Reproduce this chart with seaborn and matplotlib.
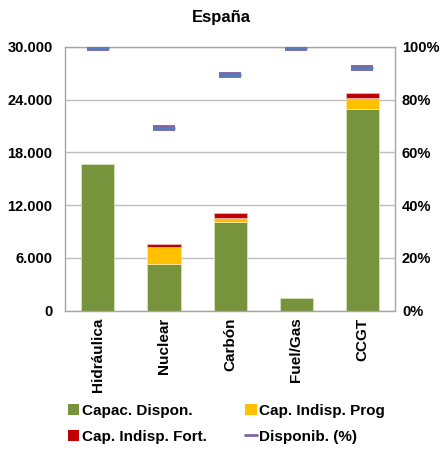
import numpy as np
import pandas as pd
import matplotlib
matplotlib.use('Agg')
import matplotlib.pyplot as plt
import seaborn as sns
from matplotlib.patches import Patch
from matplotlib.lines import Line2D

sns.set_style('white')
plt.rcParams['font.family'] = ['Liberation Sans', 'DejaVu Sans']
plt.rcParams['font.weight'] = 'bold'
plt.rcParams['text.color'] = 'black'
plt.rcParams['xtick.color'] = 'black'
plt.rcParams['ytick.color'] = 'black'

# Datos
tecnologias = ['Hidráulica', 'Nuclear', 'Carbón', 'Fuel/Gas', 'CCGT']
cap_dispon = [16700, 5270, 10100, 1440, 22950]
cap_indisp_prog = [0, 2000, 460, 0, 1220]
cap_indisp_fort = [0, 275, 570, 0, 600]
disponib = [99.5, 69.3, 89.2, 99.5, 92.0]

df = pd.DataFrame({'tec': tecnologias, 'disp': cap_dispon,
                   'prog': cap_indisp_prog, 'fort': cap_indisp_fort,
                   'pct': disponib})
df['base_fort'] = df['disp'] + df['prog']

c_verde = '#77933C'
c_amar = '#FFC000'
c_rojo = '#C00000'

fig = plt.figure(figsize=(4.43, 4.5), dpi=100)
ax = fig.add_axes([0.1467, 0.3096, 0.745, 0.5866])

# barras apiladas (se omiten los tramos vacios)
sns.barplot(data=df, x='tec', y='disp', order=tecnologias, color=c_verde,
            width=0.5, edgecolor='#D7E4BD', linewidth=0.6, ax=ax, saturation=1)
d_prog = df[df['prog'] > 0]
sns.barplot(data=d_prog, x='tec', y='prog', order=tecnologias,
            bottom=d_prog['disp'].values, color=c_amar, width=0.5,
            edgecolor='#FFE699', linewidth=0.6, ax=ax, saturation=1)
d_fort = df[df['fort'] > 0]
sns.barplot(data=d_fort, x='tec', y='fort', order=tecnologias,
            bottom=d_fort['base_fort'].values, color=c_rojo, width=0.5,
            edgecolor='#E6B9B8', linewidth=0.6, ax=ax, saturation=1)

ax.set_xlim(-0.5, 4.5)
ax.set_ylim(0, 30000)
ax.set_yticks(np.arange(0, 30001, 6000))
ax.set_yticklabels([f'{v:,}'.replace(',', '.') for v in range(0, 30001, 6000)],
                   fontsize=10.5, fontweight='bold')
ax.set_xticks(range(len(tecnologias)))
ax.set_xticklabels(tecnologias, rotation=90, fontsize=11, fontweight='bold')
ax.set_xlabel('')
ax.set_ylabel('')
ax.yaxis.grid(True, color='#BFBFBF', linewidth=1)
ax.set_axisbelow(True)
for s in ax.spines.values():
    s.set_color('#A6A6A6')
    s.set_linewidth(1)
ax.tick_params(axis='y', length=0, pad=9)
ax.tick_params(axis='x', length=0, pad=5)

ax2 = ax.twinx()
ax2.set_ylim(0, 100)
ax2.set_yticks(np.arange(0, 101, 20))
ax2.set_yticklabels([f'{v}%' for v in range(0, 101, 20)], fontsize=10.5,
                    fontweight='bold')
ax2.tick_params(axis='y', length=0, pad=5)
for s in ax2.spines.values():
    s.set_visible(False)
x = np.arange(len(tecnologias))
ax2.scatter(x, df['pct'], marker='_', s=270, linewidths=4.2, color='#8064A2',
            zorder=3)
ax2.scatter(x, df['pct'], marker='_', s=230, linewidths=1.8, color='#4F81BD',
            zorder=4)

fig.text(0.5, 0.962, 'España', ha='center', va='center', fontsize=12,
         fontweight='bold')

handles = [Patch(facecolor=c_verde, edgecolor='none'),
           Patch(facecolor=c_rojo, edgecolor='none'),
           Patch(facecolor=c_amar, edgecolor='none'),
           Line2D([0], [0], color='#8064A2', linewidth=2)]
labels = ['Capac. Dispon.', 'Cap. Indisp. Fort.', 'Cap. Indisp. Prog',
          'Disponib. (%)']
fig.legend(handles, labels, loc='center', bbox_to_anchor=(0.511, 0.058), ncol=2,
           frameon=False, handlelength=0.75, handleheight=0.75,
           handletextpad=0.15, columnspacing=2.55, labelspacing=0.75,
           prop={'weight': 'bold', 'size': 11})

fig.savefig('out.png', dpi=100)
